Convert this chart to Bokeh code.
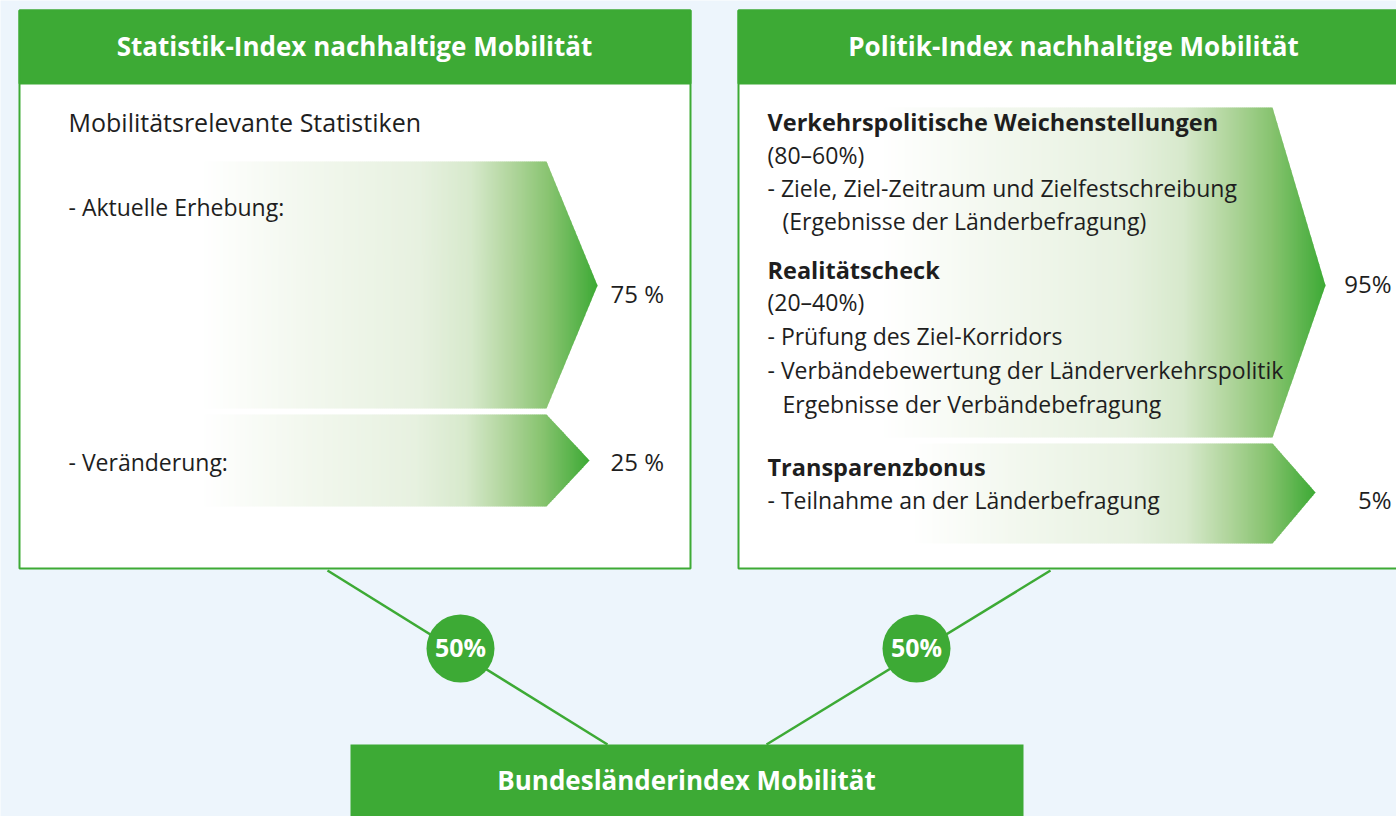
from bokeh.plotting import figure
from bokeh.models import Range1d
from bokeh.core.properties import value
from bokeh.embed import file_html
from bokeh.resources import INLINE

# ---------------- data ----------------
box_titles = ["Statistik-Index nachhaltige Mobilität", "Politik-Index nachhaltige Mobilität"]
result_title = "Bundesländerindex Mobilität"
index_weights = [50, 50]

stat_heading = "Mobilitätsrelevante Statistiken"
stat_labels = ["- Aktuelle Erhebung:", "- Veränderung:"]
stat_shares = [75, 25]

pol_headings = ["Verkehrspolitische Weichenstellungen", "Realitätscheck", "Transparenzbonus"]
pol_ranges = ["(80–60%)", "(20–40%)"]
pol_items = [
    ["- Ziele, Ziel-Zeitraum und Zielfestschreibung", "(Ergebnisse der Länderbefragung)"],
    ["- Prüfung des Ziel-Korridors", "- Verbändebewertung der Länderverkehrspolitik", "Ergebnisse der Verbändebefragung"],
    ["- Teilnahme an der Länderbefragung"],
]
pol_item_indent = [[False, True], [False, False, True], [False]]
pol_shares = [95, 5]

# ---------------- styles ----------------
GREEN = "#3DAA35"
BG = "#EDF5FC"
INK = "#1E1E1E"
FONT = "Open Sans"
DY = -2  # baseline correction for Open Sans

p = figure(width=1396, height=816, x_range=Range1d(0, 1396), y_range=Range1d(816, 0),
           output_backend="svg", toolbar_location=None, min_border=0,
           min_border_left=0, min_border_right=0, min_border_top=0, min_border_bottom=0)
p.axis.visible = False
p.grid.visible = False
p.outline_line_color = None
p.background_fill_color = BG
p.border_fill_color = BG

# ---------------- connectors ----------------
p.segment(x0=[327, 1050], y0=[570, 570], x1=[607, 766], y1=[744, 744], line_color=GREEN, line_width=2.5)

# ---------------- boxes ----------------
p.quad(left=[19, 738], right=[690, 1420], top=[10, 10], bottom=[568, 568],
       fill_color="white", line_color=GREEN, line_width=2)
p.quad(left=[19, 738], right=[690, 1420], top=[10, 10], bottom=[83, 83],
       fill_color=GREEN, line_color=GREEN, line_width=2)
p.quad(left=[350], right=[1023], top=[744], bottom=[830], fill_color=GREEN, line_color=None)

# ---------------- gradient arrows ----------------
stops = [(0.0, (255, 255, 255)), (0.25, (243, 248, 239)), (0.55, (231, 241, 224)),
         (0.68, (215, 233, 204)), (0.78, (178, 214, 158)), (0.88, (135, 195, 111)),
         (1.0, (61, 170, 53))]


def grad(t):
    t = max(0.0, min(1.0, t))
    for (a, ca), (b, cb) in zip(stops[:-1], stops[1:]):
        if t <= b:
            f = (t - a) / (b - a) if b > a else 0
            c = [round(ca[i] + f * (cb[i] - ca[i])) for i in range(3)]
            return "#%02x%02x%02x" % tuple(c)
    return "#%02x%02x%02x" % stops[-1][1]


arrows = [
    dict(x0=200, xr=546, xt=597, y0=161, y1=408, ym=285),
    dict(x0=200, xr=546, xt=589, y0=414, y1=506, ym=460),
    dict(x0=880, xr=1272, xt=1325, y0=107, y1=437, ym=285),
    dict(x0=910, xr=1272, xt=1315, y0=443, y1=543, ym=492),
]

xs, ys, cols = [], [], []
for ar in arrows:
    x0, xr, xt, y0, y1, ym = ar["x0"], ar["xr"], ar["xt"], ar["y0"], ar["y1"], ar["ym"]

    def ext(u):
        if u <= xr:
            return y0, y1
        f = (u - xr) / (xt - xr)
        return y0 + f * (ym - y0), y1 - f * (y1 - ym)

    step = 2.0
    x = x0
    while x < xt - 1e-6:
        a = x
        b = min(x + step, xt)
        b2 = min(b + 0.7, xt)
        pts = [a] + ([xr] if a < xr < b2 else []) + [b2]
        tops = [ext(u)[0] for u in pts]
        bots = [ext(u)[1] for u in pts]
        xs.append(pts + pts[::-1])
        ys.append(tops + bots[::-1])
        cols.append(grad(((a + b) / 2 - x0) / (xt - x0)))
        x = b

p.patches(xs=xs, ys=ys, fill_color=cols, line_color=None)

# ---------------- weight circles ----------------
p.circle(x=[460, 916], y=[648, 648], radius=34, fill_color=GREEN, line_color=None)
p.text(x=[460, 916], y=[648 + DY, 648 + DY], text=[f"{w}%" for w in index_weights],
       text_font=value(FONT), text_font_style="bold", text_font_size="25px",
       text_color="white", text_align="center", text_baseline="middle")

# ---------------- titles ----------------
p.text(x=[354, 1073], y=[47 + DY, 47 + DY], text=box_titles, text_font=value(FONT), text_font_style="bold",
       text_font_size="26px", text_color="white", text_align="center", text_baseline="middle")
p.text(x=[686], y=[781 + DY], text=[result_title], text_font=value(FONT), text_font_style="bold",
       text_font_size="26px", text_color="white", text_align="center", text_baseline="middle")

# ---------------- left box texts ----------------
p.text(x=[68], y=[123 + DY], text=[stat_heading],
       text_font=value(FONT), text_font_size="25px", text_color=INK,
       text_align="left", text_baseline="middle")
p.text(x=[68, 68], y=[208 + DY, 463 + DY], text=stat_labels,
       text_font=value(FONT), text_font_size="23px", text_color=INK,
       text_align="left", text_baseline="middle")
p.text(x=[610, 610], y=[295 + DY, 463 + DY], text=[f"{s} %" for s in stat_shares],
       text_font=value(FONT), text_font_size="24px", text_color=INK,
       text_align="left", text_baseline="middle")

# ---------------- right box texts ----------------
p.text(x=[767, 767, 767], y=[123 + DY, 271 + DY, 468 + DY], text=pol_headings,
       text_font=value(FONT), text_font_style="bold", text_font_size="23.5px", text_color=INK,
       text_align="left", text_baseline="middle")
reg_y = [156, 189, 222, 303, 337, 371, 405, 501]
reg_t = [pol_ranges[0]] + pol_items[0] + [pol_ranges[1]] + pol_items[1] + pol_items[2]
reg_ind = [False] + pol_item_indent[0] + [False] + pol_item_indent[1] + pol_item_indent[2]
reg_x = [782 if ind else 767 for ind in reg_ind]
p.text(x=reg_x, y=[v + DY for v in reg_y], text=reg_t,
       text_font=value(FONT), text_font_size="23px", text_color=INK,
       text_align="left", text_baseline="middle")
p.text(x=[1391, 1391], y=[285 + DY, 501 + DY], text=[f"{s}%" for s in pol_shares],
       text_font=value(FONT), text_font_size="24px", text_color=INK,
       text_align="right", text_baseline="middle")

open("out.html", "w").write(file_html(p, INLINE))
